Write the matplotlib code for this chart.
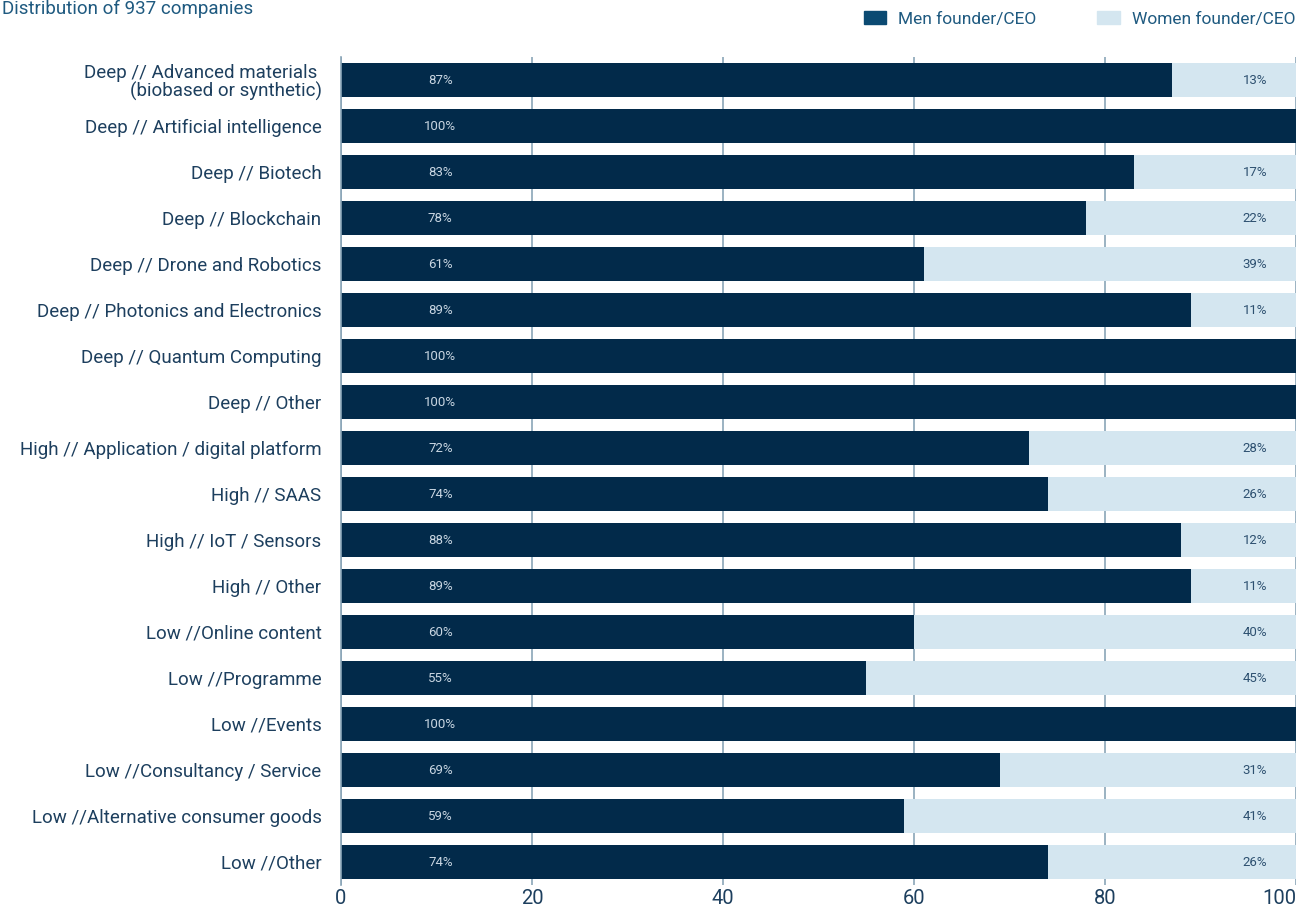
import numpy as np
import matplotlib.pyplot as plt
from matplotlib.patches import Patch

# Sector categories and share of founders/CEOs by gender (%)
categories = [
    "Deep // Advanced materials \n(biobased or synthetic)",
    "Deep // Artificial intelligence",
    "Deep // Biotech",
    "Deep // Blockchain",
    "Deep // Drone and Robotics",
    "Deep // Photonics and Electronics",
    "Deep // Quantum Computing",
    "Deep // Other",
    "High // Application / digital platform",
    "High // SAAS",
    "High // IoT / Sensors",
    "High // Other",
    "Low //Online content",
    "Low //Programme",
    "Low //Events",
    "Low //Consultancy / Service",
    "Low //Alternative consumer goods",
    "Low //Other",
]
men = [87, 100, 83, 78, 61, 89, 100, 100, 72, 74, 88, 89, 60, 55, 100, 69, 59, 74]
women = [13, 0, 17, 22, 39, 11, 0, 0, 28, 26, 12, 11, 40, 45, 0, 31, 41, 26]
x_ticks = [0, 20, 40, 60, 80, 100]

MEN_COLOR = "#022a4a"
WOMEN_COLOR = "#d4e6f0"
LEGEND_MEN = "#0b4a72"
TEXT_COLOR = "#1d3f5e"
GRID_COLOR = "#8aa5b8"

plt.rcParams["font.family"] = ["Roboto", "DejaVu Sans"]

fig = plt.figure(figsize=(12.97, 9.10), dpi=100)
ax = fig.add_axes([341 / 1297, 25 / 910, 955 / 1297, 828 / 910])

y = np.arange(len(categories))
ax.barh(y, men, height=0.74, color=MEN_COLOR, zorder=2)
ax.barh(y, women, left=men, height=0.74, color=WOMEN_COLOR, zorder=2)

for i, (m, w) in enumerate(zip(men, women)):
    ax.text(10.4, i, f"{m}%", ha="center", va="center", fontsize=9.5,
            color="#c9d6e2", zorder=3)
    if w > 0:
        ax.text(95.7, i, f"{w}%", ha="center", va="center", fontsize=9.5,
                color="#2d5070", zorder=3)

ax.set_xlim(0, 100)
ax.set_ylim(len(categories) - 0.5, -0.5)
ax.set_yticks(y)
ax.set_yticklabels(categories, fontsize=13.5, color=TEXT_COLOR, linespacing=1.0)
ax.set_xticks(x_ticks)
ax.set_xticklabels([str(t) for t in x_ticks], fontsize=14.5, color=TEXT_COLOR)
ax.tick_params(axis="y", length=0, pad=14)
ax.tick_params(axis="x", length=0, pad=3)
for lbl in ax.get_yticklabels():
    lbl.set_horizontalalignment("right")
    lbl.set_multialignment("right")
# keep the last tick label inside the figure
ax.get_xticklabels()[-1].set_horizontalalignment("right")

ax.xaxis.grid(True, color=GRID_COLOR, linewidth=1.2, zorder=1)
for side in ["top", "right", "bottom"]:
    ax.spines[side].set_visible(False)
ax.spines["left"].set_color(GRID_COLOR)
ax.spines["left"].set_linewidth(1.2)

handles = [Patch(color=LEGEND_MEN, label="Men founder/CEO"),
           Patch(color=WOMEN_COLOR, label="Women founder/CEO")]
fig.legend(handles=handles, loc="upper right", bbox_to_anchor=(1.011, 1.005),
           ncol=2, frameon=False, fontsize=12.5, labelcolor="#1f5a80",
           handlelength=1.3, handleheight=0.8, columnspacing=3.5, handletextpad=0.7)

fig.text(2 / 1297, 1.0, "Distribution of 937 companies", ha="left", va="top",
         fontsize=13.5, color="#1f5a80")

fig.savefig("out.png", dpi=100)
